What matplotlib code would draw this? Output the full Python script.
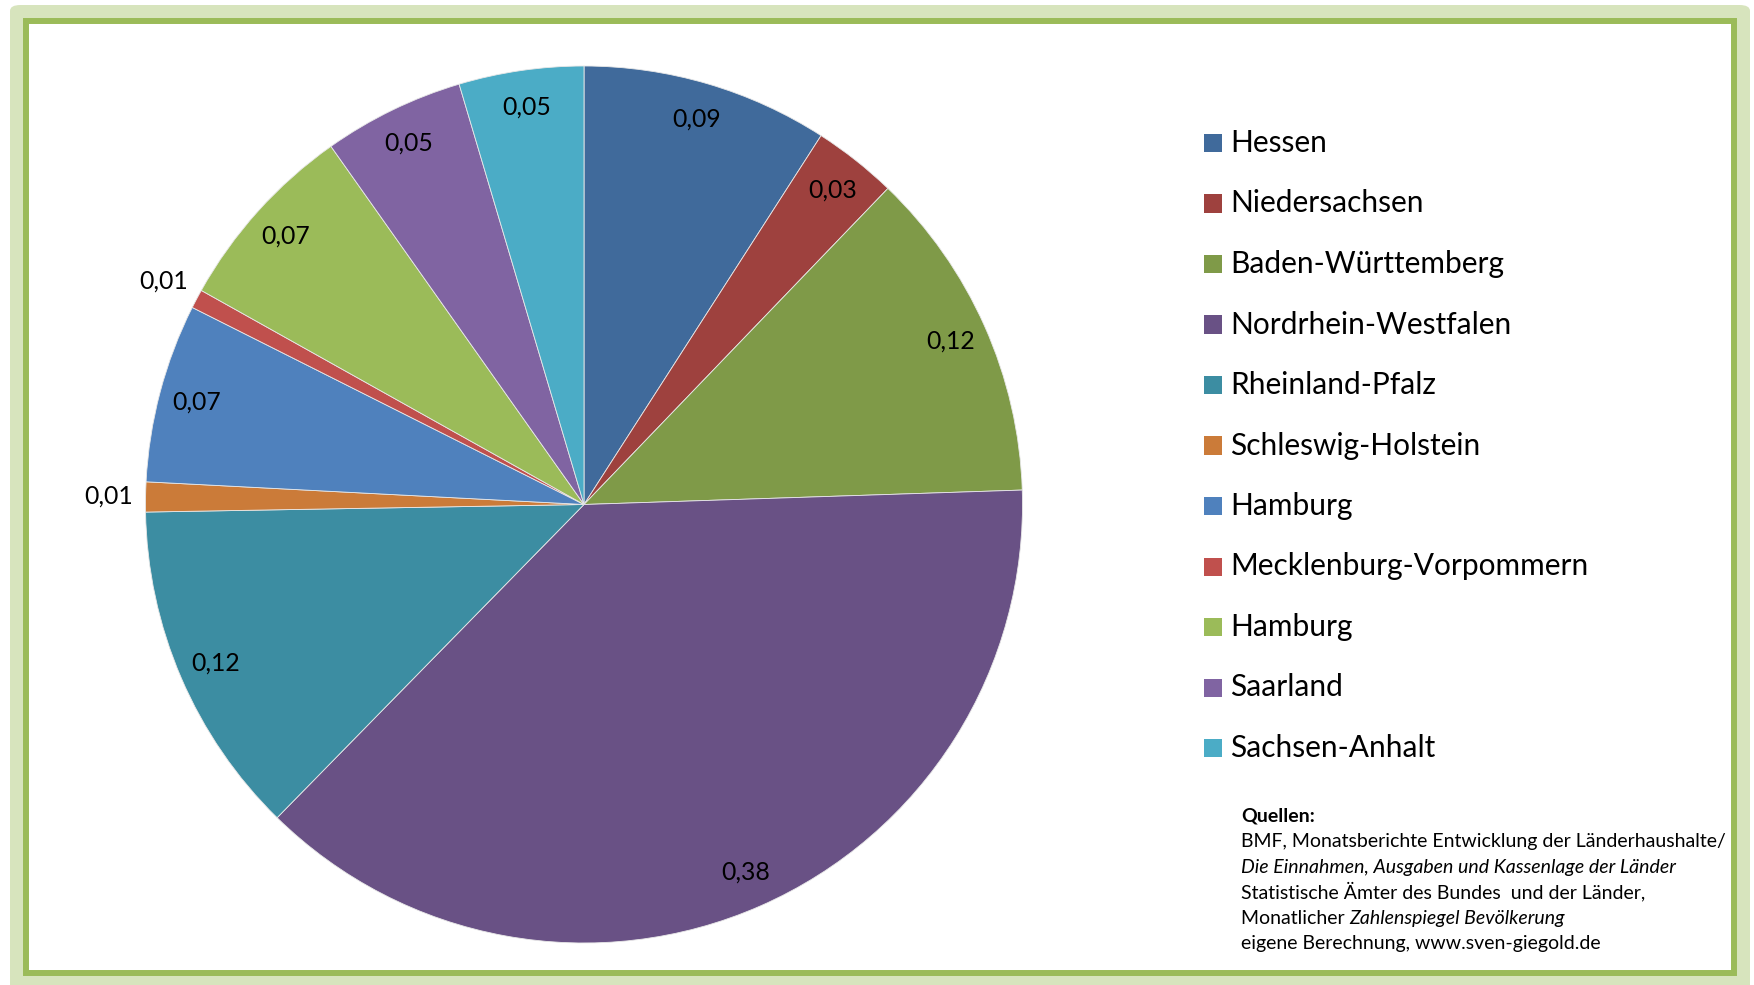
import matplotlib
matplotlib.use("Agg")
import matplotlib.pyplot as plt
from matplotlib.patches import Rectangle, FancyBboxPatch
import numpy as np

# data (shares, clockwise from the top)
states = ['Hessen', 'Niedersachsen', 'Baden-Württemberg', 'Nordrhein-Westfalen',
          'Rheinland-Pfalz', 'Schleswig-Holstein', 'Hamburg',
          'Mecklenburg-Vorpommern', 'Hamburg', 'Saarland', 'Sachsen-Anhalt']
shares = [0.091, 0.031, 0.123, 0.379, 0.124, 0.011, 0.066, 0.007, 0.071, 0.052, 0.046]
colors = ['#406A9B', '#9E413E', '#7F9A48', '#695185', '#3C8DA2', '#CB7B39',
          '#4F81BD', '#C0504D', '#9BBB59', '#8064A2', '#4BACC6']

source_lines = [
    [('Quellen:', 'normal', 'bold')],
    [('BMF, Monatsberichte Entwicklung der Länderhaushalte/', 'normal', 'normal')],
    [('Die Einnahmen, Ausgaben und Kassenlage der Länder', 'italic', 'normal')],
    [('Statistische Ämter des Bundes  und der Länder,', 'normal', 'normal')],
    [('Monatlicher ', 'normal', 'normal'), ('Zahlenspiegel Bevölkerung', 'italic', 'normal')],
    [('eigene Berechnung, www.sven-giegold.de', 'normal', 'normal')],
]

plt.rcParams['font.family'] = ['Lato', 'DejaVu Sans']

W, H = 1754, 985
fig = plt.figure(figsize=(W / 100, H / 100), dpi=100)

# frame: light green band with darker green inner line
fig.add_artist(FancyBboxPatch((10 / W, -0.01), 1740 / W, (H - 5) / H + 0.01,
                              boxstyle='round,pad=0,rounding_size=0.006',
                              transform=fig.transFigure, facecolor='#D7E4BD',
                              edgecolor='none', zorder=0))
fig.add_artist(Rectangle((26 / W, (H - 972.5) / H), (1733.5 - 26) / W, (972.5 - 21) / H,
                         transform=fig.transFigure, facecolor='white',
                         edgecolor='#9BBB59', linewidth=4.3, zorder=1))

# pie
cx, cy, r = 584, 504.5, 438.5
box = 440
ax = fig.add_axes([(cx - box) / W, (H - cy - box) / H, 2 * box / W, 2 * box / H])
ax.set_zorder(2)

wedges, _ = ax.pie(shares, colors=colors, startangle=90, counterclock=False,
                   radius=r / box,
                   wedgeprops=dict(edgecolor='#E8E8E8', linewidth=0.6))
ax.set_xlim(-1, 1)
ax.set_ylim(-1, 1)
ax.set_aspect('equal')
ax.axis('off')

for w, v in zip(wedges, shares):
    mid = np.deg2rad((w.theta1 + w.theta2) / 2)
    d = 0.915 if v >= 0.02 else 1.085
    lbl = ('%.2f' % v).replace('.', ',')
    ax.text(d * r / box * np.cos(mid), d * r / box * np.sin(mid), lbl,
            ha='center', va='center', fontsize=17.8, color='black')

# legend
y0, dy = 143, 60.5
for i, (name, c) in enumerate(zip(states, colors)):
    y = y0 + i * dy
    fig.add_artist(Rectangle((1204 / W, (H - y - 9) / H), 18 / W, 18 / H,
                             transform=fig.transFigure, facecolor=c,
                             edgecolor='none', zorder=3))
    fig.text(1230 / W, (H - y) / H, name, ha='left', va='center',
             fontsize=21.5, color='black', zorder=3)

# sources
sy0, sdy = 822, 25.5
for i, parts in enumerate(source_lines):
    yf = (H - (sy0 + i * sdy)) / H
    prev = fig.text(1241 / W, yf, parts[0][0], ha='left', va='baseline',
                    fontsize=14, fontstyle=parts[0][1], fontweight=parts[0][2],
                    zorder=3)
    for txt, st, wt in parts[1:]:
        prev = ax.annotate(txt, xy=(1, yf), xycoords=(prev, 'figure fraction'),
                           ha='left', va='baseline', fontsize=14,
                           fontstyle=st, fontweight=wt, annotation_clip=False)

fig.savefig('out.png', dpi=100)
